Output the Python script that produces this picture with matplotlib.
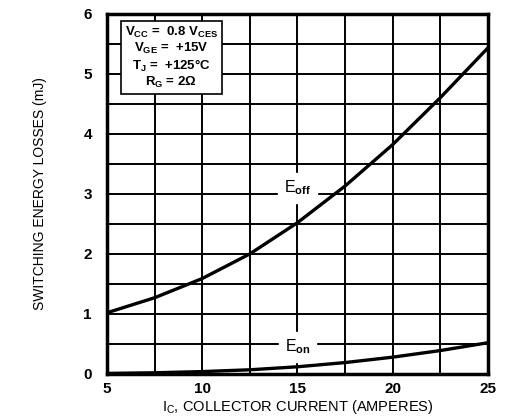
import matplotlib
matplotlib.use("Agg")
import matplotlib.pyplot as plt
import numpy as np

# values at each grid column
ic = [5, 7.5, 10, 12.5, 15, 17.5, 20, 22.5, 25]
e_off = [1.02, 1.27, 1.59, 2.00, 2.52, 3.13, 3.82, 4.60, 5.43]
e_on = [0.01, 0.02, 0.04, 0.07, 0.12, 0.19, 0.28, 0.39, 0.52]

x_ticks = [5, 10, 15, 20, 25]
y_ticks = [0, 1, 2, 3, 4, 5, 6]
conditions = ["$\\mathbf{V_{CC}}$ =  0.8 $\\mathbf{V_{CES}}$",
              "$\\mathbf{V_{GE}}$ =  +15V",
              "$\\mathbf{T_J}$ =  +125°C",
              "$\\mathbf{R_G}$ = 2Ω"]

plt.rcParams['font.family'] = ['Liberation Sans', 'DejaVu Sans']
plt.rcParams['mathtext.fontset'] = 'custom'
plt.rcParams['mathtext.rm'] = 'Liberation Sans'
plt.rcParams['mathtext.bf'] = 'Liberation Sans:bold'
plt.rcParams['mathtext.it'] = 'Liberation Sans:italic'

fig = plt.figure(figsize=(5.05, 4.16), dpi=100)
ax = fig.add_axes([0.212, 0.101, 0.754, 0.866])

ax.set_xlim(5, 25)
ax.set_ylim(0, 6)
ax.set_xticks(np.arange(5, 25.1, 2.5), minor=True)
ax.set_yticks(np.arange(0, 6.1, 0.5), minor=True)
ax.set_xticks(x_ticks)
ax.set_yticks(y_ticks)
ax.grid(True, which='both', color='black', linewidth=1.4)
ax.tick_params(which='both', length=0)
ax.tick_params(axis='y', labelsize=11, pad=11)
ax.tick_params(axis='x', labelsize=11, pad=6)
for lab in ax.get_xticklabels() + ax.get_yticklabels():
    lab.set_fontweight('bold')
for s in ax.spines.values():
    s.set_linewidth(2.5)

ax.plot(ic, e_off, color='black', linewidth=2.4)
ax.plot(ic, e_on, color='black', linewidth=2.4)

ax.text(15, 3.1, "E$_{\\mathbf{off}}$", fontsize=11.5, ha='center', va='center',
        backgroundcolor='white', zorder=5)
ax.text(15, 0.45, "E$_{\\mathbf{on}}$", fontsize=11.5, ha='center', va='center',
        backgroundcolor='white', zorder=5)

ax.text(8.37, 5.27, "\n".join(conditions), fontsize=9.5, fontweight='bold',
        ha='center', va='center', linespacing=1.1, zorder=6,
        bbox=dict(boxstyle='square,pad=0.3', facecolor='white', edgecolor='black', linewidth=1.2))

ax.set_ylabel("SWITCHING ENERGY LOSSES (mJ)", fontsize=10, labelpad=26)
ax.set_xlabel("I$_\\mathrm{C}$, COLLECTOR CURRENT (AMPERES)", fontsize=10.5, labelpad=1)

fig.savefig("out.png", dpi=100)
